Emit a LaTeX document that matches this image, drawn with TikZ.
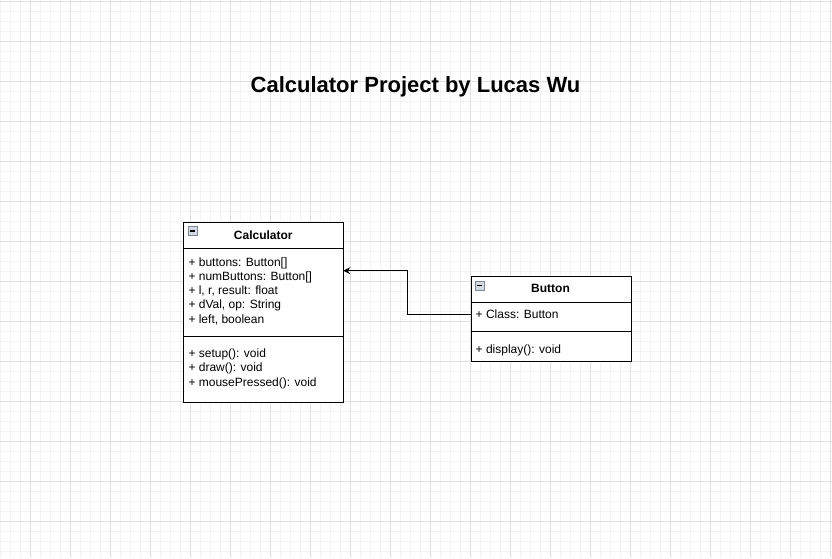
\documentclass[tikz,border=0pt]{standalone}
\usepackage{fontspec}
\setmainfont{Liberation Sans}
\usetikzlibrary{arrows.meta}
\definecolor{gridminor}{HTML}{F3F3F3}
\definecolor{gridmajor}{HTML}{E0E0E0}
\definecolor{iconfill}{HTML}{D5D9E4}
\definecolor{iconline}{HTML}{7F8597}
\tikzset{
  compart/.style={draw=black, fill=white, line width=1pt, rectangle, inner sep=0pt,
    minimum width=160pt, anchor=north west},
  member/.style={anchor=base west, inner sep=0pt, font=\fontsize{12}{14.4}\selectfont},
  classname/.style={anchor=base, inner sep=0pt, font=\fontsize{12}{14.4}\selectfont\bfseries},
  icon/.style={draw=iconline, fill=iconfill, line width=0.8pt, rectangle, inner sep=0pt,
    minimum width=9pt, minimum height=9pt, anchor=north west},
  conn/.style={draw=black, line width=1pt, -{Stealth[length=7pt,width=7pt,inset=2.5pt]}},
}
\begin{document}
\begin{tikzpicture}[x=1pt,y=-1pt]
\useasboundingbox (0,0) rectangle (832,558);
\fill[white] (0,0) rectangle (832,558);
% grid
\foreach \i in {0,10,...,830} \draw[gridminor, line width=1pt] (\i,0) -- (\i,558);
\foreach \j in {1.5,11.5,...,558} \draw[gridminor, line width=1pt] (0,\j) -- (832,\j);
\foreach \i in {30,70,...,830} \draw[gridmajor, line width=1pt] (\i,0) -- (\i,558);
\foreach \j in {1.5,41.5,...,558} \draw[gridmajor, line width=1pt] (0,\j) -- (832,\j);

% title
\node[anchor=base, inner sep=0pt, font=\fontsize{22}{26}\selectfont\bfseries] (title) at (415.5,92.3) {Calculator Project by Lucas Wu};

% Calculator class
\node[compart, minimum height=26pt] (calchead) at (183.3,221.5) {};
\node[compart, minimum height=88pt] (calcattr) at (183.3,247.5) {};
\node[compart, minimum height=66pt] (calcmeth) at (183.3,335.5) {};
\node[icon] (calcicon) at (187.5,226) {};
\draw[black, line width=1.2pt] ([xshift=2pt]calcicon.west) -- ([xshift=-2pt]calcicon.east);
\node[classname] (calcname) at (263.3,239) {Calculator};
\node[member] (ca1) at (188.3,266) {+ buttons: Button[]};
\node[member] (ca2) at (188.3,280.3) {+ numButtons: Button[]};
\node[member] (ca3) at (188.3,294.6) {+ l, r, result: float};
\node[member] (ca4) at (188.3,308.9) {+ dVal, op: String};
\node[member] (ca5) at (188.3,323.2) {+ left, boolean};
\node[member] (cm1) at (188.3,357.5) {+ setup(): void};
\node[member] (cm2) at (188.3,371.8) {+ draw(): void};
\node[member] (cm3) at (188.3,386.1) {+ mousePressed(): void};

% Button class
\node[compart, minimum height=26pt] (btnhead) at (470.5,275.5) {};
\node[compart, minimum height=29.5pt] (btnattr) at (470.5,301.5) {};
\node[compart, minimum height=30pt] (btnmeth) at (470.5,331) {};
\node[icon] (btnicon) at (474.5,280.7) {};
\draw[black, line width=1.2pt] ([xshift=2pt]btnicon.west) -- ([xshift=-2pt]btnicon.east);
\node[classname] (btnname) at (550.5,292.6) {Button};
\node[member] (ba1) at (475.5,318.3) {+ Class: Button};
\node[member] (bm1) at (475.5,353.6) {+ display(): void};

% connector
\coordinate (src) at ([yshift=2pt]btnattr.west);
\coordinate (tgt) at (343.3,270.7);
\coordinate (bend) at (407.3,0);
\draw[conn] (src) -- (bend |- src) -- (bend |- tgt) -- (tgt);
\end{tikzpicture}
\end{document}
